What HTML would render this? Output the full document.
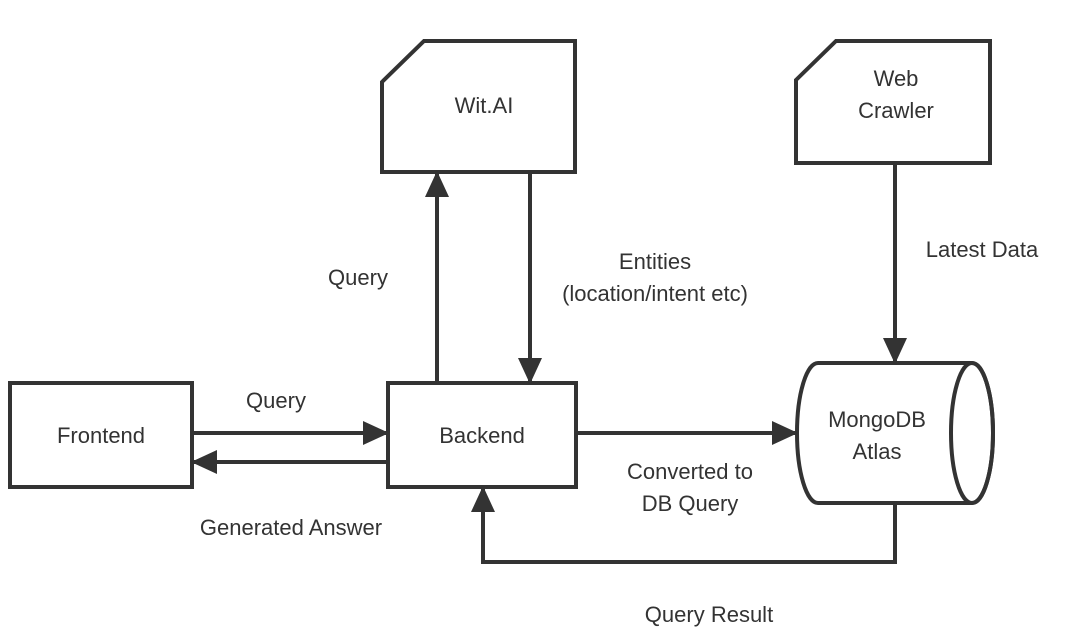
<!DOCTYPE html>
<html><head><style>
html,body{margin:0;padding:0;background:#fff;}
svg{display:block}
text{font-family:"Liberation Sans",sans-serif;font-size:22px;fill:#333;}
</style></head><body>
<svg width="1066" height="630" viewBox="0 0 1066 630">
<defs><marker id="a" markerWidth="10" markerHeight="10" refX="9" refY="5" orient="auto" markerUnits="userSpaceOnUse"><path d="M0,0 L10,5 L0,10z" fill="#333"/></marker>
<marker id="b" markerWidth="26" markerHeight="24" refX="25" refY="12" orient="auto" markerUnits="userSpaceOnUse"><path d="M0,0 L26,12 L0,24z" fill="#333"/></marker></defs>
<g stroke="#333" stroke-width="4" fill="none">
<path d="M382,82 L424,41 L575,41 L575,172 L382,172 Z" fill="#fff"/>
<path d="M796,80 L836,41 L990,41 L990,163 L796,163 Z" fill="#fff"/>
<rect x="10" y="383" width="182" height="104"/>
<rect x="388" y="383" width="188" height="104"/>
<path d="M818,363 L972,363 A21,70 0 0 1 972,503 L818,503 A21,70 0 0 1 818,363 Z"/>
<ellipse cx="972" cy="433" rx="21" ry="70"/>
<path d="M437,383 L437,172" marker-end="url(#b)"/>
<path d="M530,172 L530,383" marker-end="url(#b)"/>
<path d="M192,433 L388,433" marker-end="url(#b)"/>
<path d="M388,462 L192,462" marker-end="url(#b)"/>
<path d="M576,433 L797,433" marker-end="url(#b)"/>
<path d="M895,163 L895,363" marker-end="url(#b)"/>
<path d="M895,503 L895,562 L483,562 L483,487" marker-end="url(#b)"/>
</g>
<text x="484" y="113" text-anchor="middle">Wit.AI</text>
<text x="896" y="86" text-anchor="middle">Web</text>
<text x="896" y="118" text-anchor="middle">Crawler</text>
<text x="101" y="443" text-anchor="middle">Frontend</text>
<text x="482" y="443" text-anchor="middle">Backend</text>
<text x="877" y="427" text-anchor="middle">MongoDB</text>
<text x="877" y="459" text-anchor="middle">Atlas</text>
<text x="358" y="285" text-anchor="middle">Query</text>
<text x="655" y="269" text-anchor="middle">Entities</text>
<text x="655" y="301" text-anchor="middle">(location/intent etc)</text>
<text x="982" y="257" text-anchor="middle">Latest Data</text>
<text x="276" y="408" text-anchor="middle">Query</text>
<text x="291" y="535" text-anchor="middle">Generated Answer</text>
<text x="690" y="479" text-anchor="middle">Converted to</text>
<text x="690" y="511" text-anchor="middle">DB Query</text>
<text x="709" y="622" text-anchor="middle">Query Result</text>
</svg>
</body></html>
